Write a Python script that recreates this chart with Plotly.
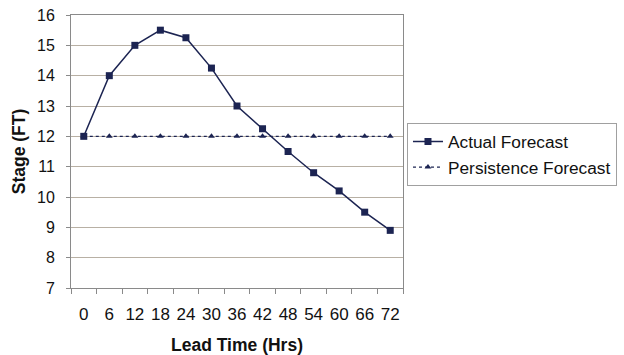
import plotly.graph_objects as go

lead_time = ["0", "6", "12", "18", "24", "30", "36", "42", "48", "54", "60", "66", "72"]
actual_forecast = [12, 14, 15, 15.5, 15.25, 14.25, 13, 12.25, 11.5, 10.8, 10.2, 9.5, 8.9]
persistence_forecast = [12, 12, 12, 12, 12, 12, 12, 12, 12, 12, 12, 12, 12]

navy = "#1c2452"
font_family = "Liberation Sans, Arial, sans-serif"

fig = go.Figure()
fig.add_trace(go.Scatter(
    x=lead_time, y=actual_forecast, name="Actual Forecast",
    mode="lines+markers",
    line=dict(color=navy, width=1.5),
    marker=dict(symbol="square", size=7, color=navy),
))
fig.add_trace(go.Scatter(
    x=lead_time, y=persistence_forecast, name="Persistence Forecast",
    mode="lines+markers",
    line=dict(color=navy, width=1.2, dash="dot"),
    marker=dict(symbol="triangle-up", size=6, color=navy),
))

fig.update_layout(
    width=624, height=355,
    margin=dict(l=71, r=221, t=15, b=67, autoexpand=False),
    paper_bgcolor="white", plot_bgcolor="white",
    font=dict(family=font_family, size=17, color="#111"),
    showlegend=True,
    legend=dict(
        x=1.012, y=0.605, xanchor="left", yanchor="top",
        bordercolor="#a0a0a0", borderwidth=1, bgcolor="white",
        font=dict(size=17.3), itemwidth=30, tracegroupgap=0,
    ),
)
fig.update_xaxes(
    type="category", range=[-0.5, 12.5], automargin=False,
    showgrid=False, showline=True, linecolor="#8a8a8a", linewidth=1, mirror=True,
    ticks="outside", tickson="boundaries", ticklen=5, tickcolor="#8a8a8a",
    tickangle=0, ticklabelstandoff=11,
    tickfont=dict(size=17),
    title=dict(text="<b>Lead Time (Hrs)</b>", font=dict(size=17.5), standoff=16),
)
fig.update_yaxes(
    range=[7, 16], dtick=1, automargin=False,
    showgrid=True, gridcolor="#b8b0a4", gridwidth=1,
    showline=True, linecolor="#8a8a8a", linewidth=1, mirror=True,
    ticks="outside", ticklen=4, tickcolor="#8a8a8a",
    ticklabelstandoff=8,
    tickfont=dict(size=16),
    title=dict(text="<b>Stage (FT)</b>", font=dict(size=17.5), standoff=6),
    zeroline=False,
)

fig.write_html("out.html")
